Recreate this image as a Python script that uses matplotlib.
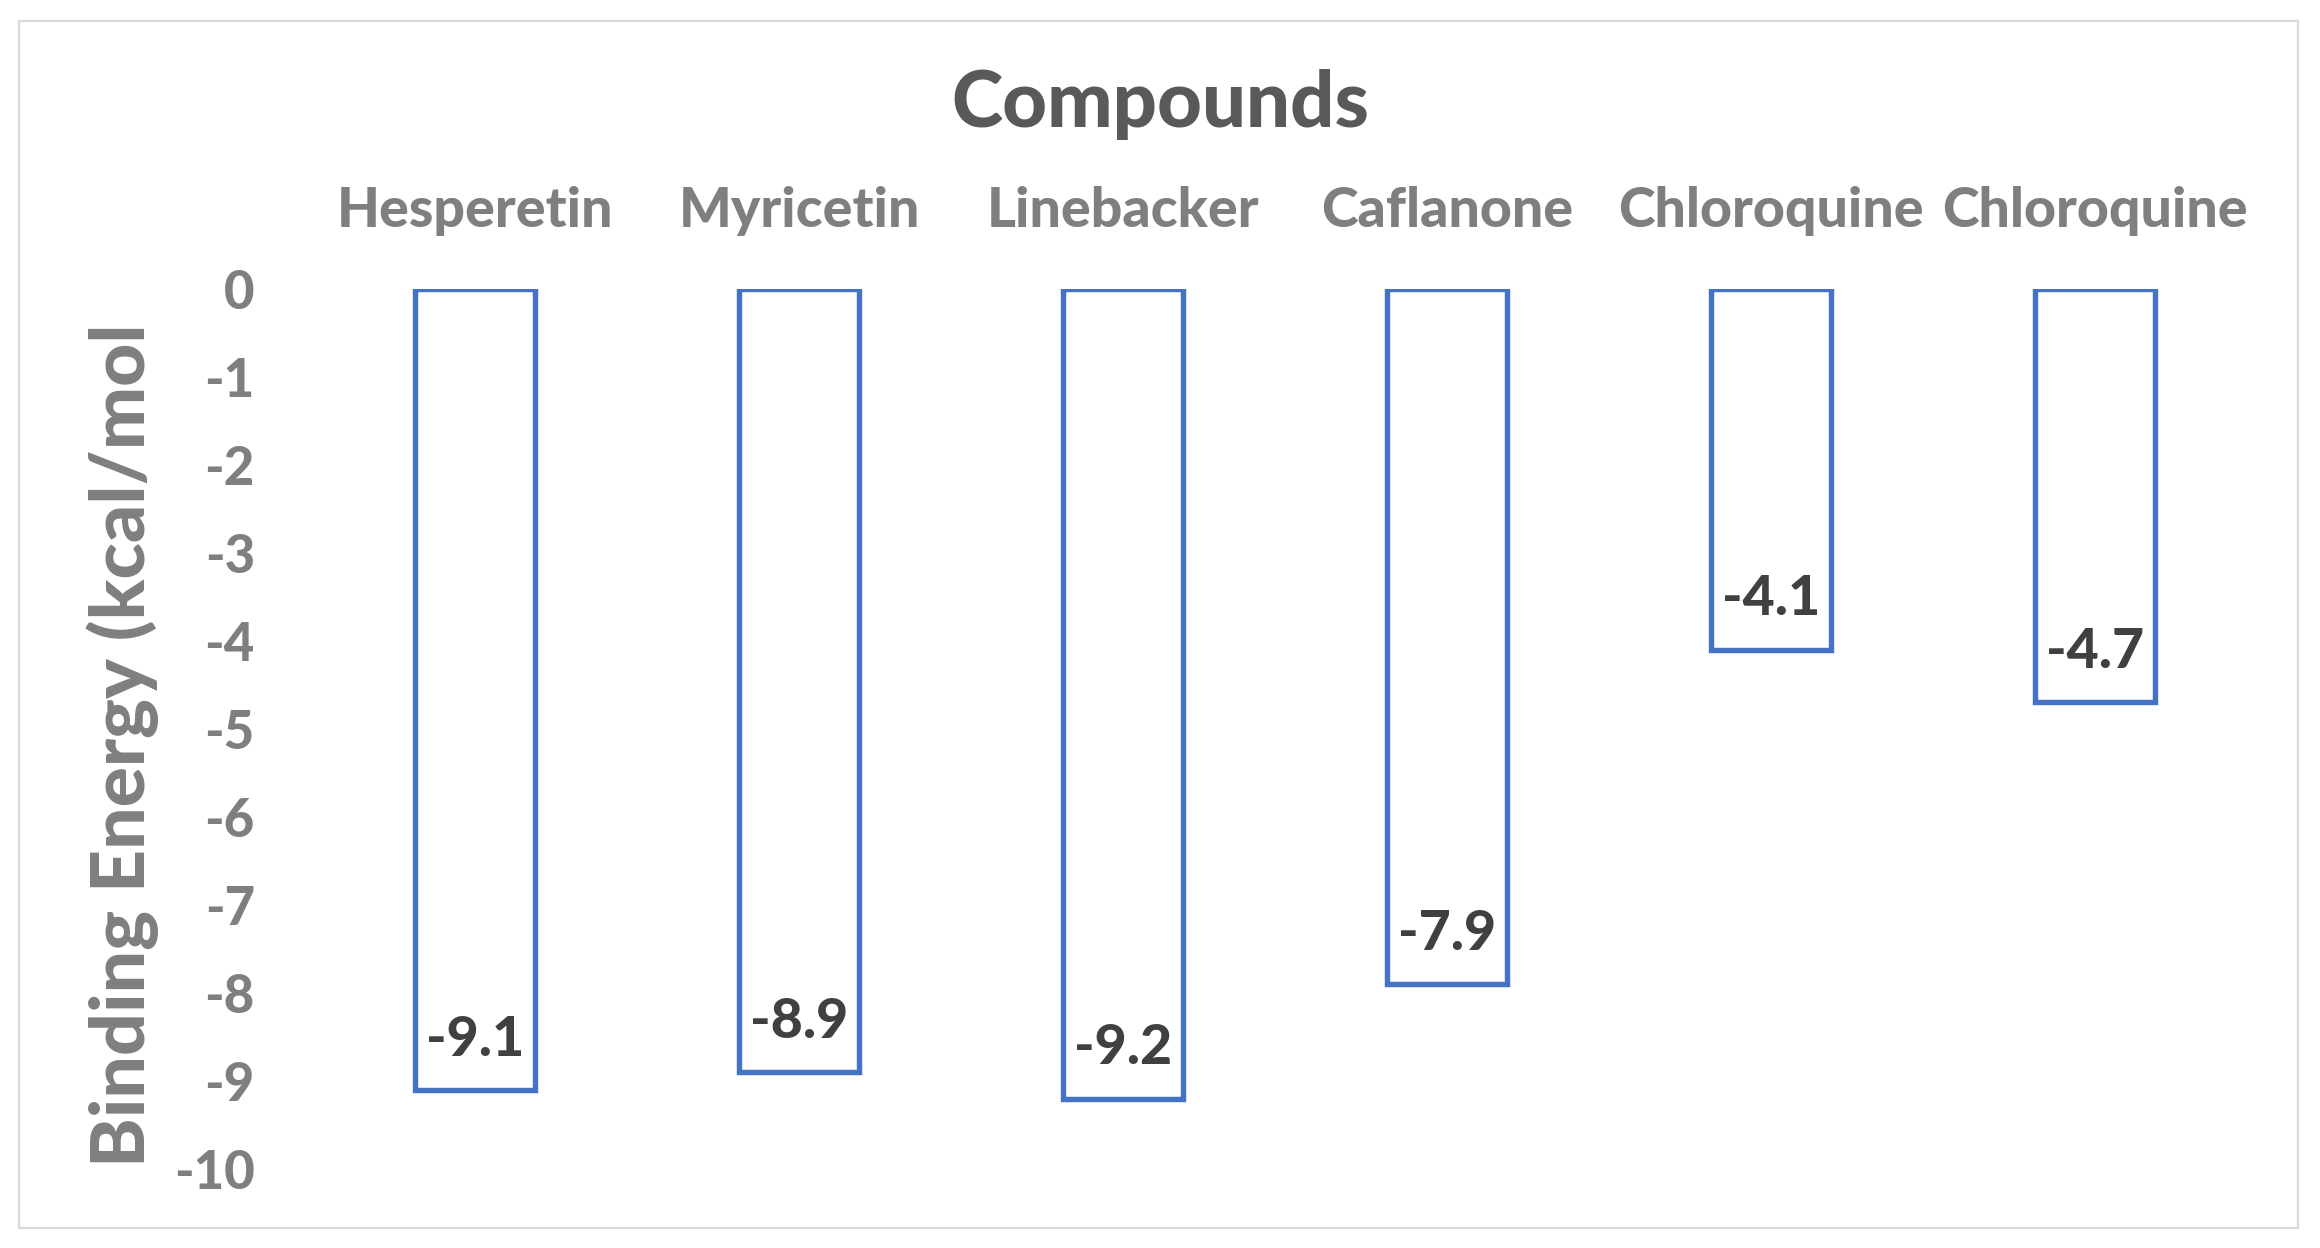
import matplotlib.pyplot as plt
from matplotlib.patches import Rectangle

# Data
compounds = ["Hesperetin", "Myricetin", "Linebacker", "Caflanone", "Chloroquine", "Chloroquine"]
energies = [-9.1, -8.9, -9.2, -7.9, -4.1, -4.7]
yticks = list(range(0, -11, -1))

grey = "#7f7f7f"
dark = "#404040"
blue = "#4472C4"
wt = 900

plt.rcParams['font.family'] = ['Lato', 'DejaVu Sans']

fig = plt.figure(figsize=(23.2, 12.48), dpi=100)
ax = fig.add_axes([0.135, 0.0633, 0.838, 0.7055])

x = list(range(len(compounds)))
ax.bar(x, energies, width=0.37, facecolor="white", edgecolor=blue, linewidth=3.9)

# value labels inside the end of each bar
for xi, v in zip(x, energies):
    ax.text(xi, v + 0.57, f"{v:.1f}", ha="center", va="center",
            fontsize=40, fontweight=wt, color=dark)

ax.set_xlim(-0.5, len(compounds) - 0.5)
ax.set_ylim(-10, 0)
ax.set_yticks(yticks)
ax.set_yticklabels([str(t) for t in yticks], fontsize=38, fontweight=wt, color=grey)
ax.tick_params(axis="y", length=0, pad=42)

ax.xaxis.tick_top()
ax.set_xticks(x)
ax.set_xticklabels(compounds, fontsize=40, fontweight=wt, color=grey)
ax.tick_params(axis="x", length=0, pad=38)

for s in ax.spines.values():
    s.set_visible(False)

fig.text(0.5, 1 - 104 / 1248, "Compounds", ha="center", va="center",
         fontsize=56, fontweight=wt, color="#595959")
fig.text(123 / 2320, 1 - 745 / 1248, "Binding Energy (kcal/mol", rotation=90,
         ha="center", va="center", fontsize=54, fontweight=wt, color=grey)

# outer chart border
fig.patches.append(Rectangle((19 / 2320, 1 - 1228 / 1248), (2298 - 19) / 2320,
                             (1228 - 21) / 1248, transform=fig.transFigure,
                             fill=False, edgecolor="#d9d9d9", linewidth=1.6))

fig.savefig("out.png", dpi=100, facecolor="white")
